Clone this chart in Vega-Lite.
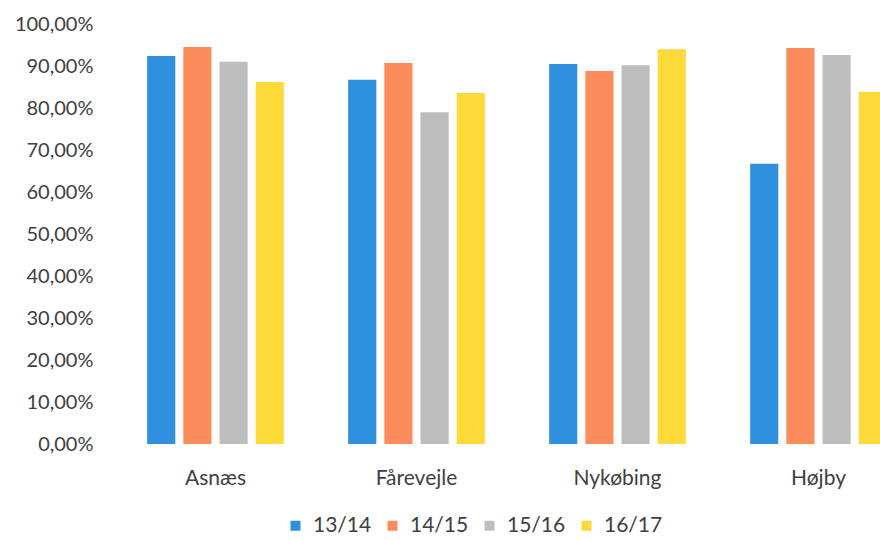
{
  "$schema": "https://vega.github.io/schema/vega-lite/v6.json",
  "autosize": {"type": "none"},
  "width": 765,
  "height": 420,
  "padding": {"left": 115, "right": 0, "top": 24, "bottom": 96},
  "background": "#ffffff",
  "data": {
    "values": [
      {"skole": "Asnæs", "år": "13/14", "andel": 0.924},
      {"skole": "Asnæs", "år": "14/15", "andel": 0.945},
      {"skole": "Asnæs", "år": "15/16", "andel": 0.910},
      {"skole": "Asnæs", "år": "16/17", "andel": 0.862},
      {"skole": "Fårevejle", "år": "13/14", "andel": 0.867},
      {"skole": "Fårevejle", "år": "14/15", "andel": 0.907},
      {"skole": "Fårevejle", "år": "15/16", "andel": 0.790},
      {"skole": "Fårevejle", "år": "16/17", "andel": 0.836},
      {"skole": "Nykøbing", "år": "13/14", "andel": 0.905},
      {"skole": "Nykøbing", "år": "14/15", "andel": 0.888},
      {"skole": "Nykøbing", "år": "15/16", "andel": 0.902},
      {"skole": "Nykøbing", "år": "16/17", "andel": 0.940},
      {"skole": "Højby", "år": "13/14", "andel": 0.667},
      {"skole": "Højby", "år": "14/15", "andel": 0.943},
      {"skole": "Højby", "år": "15/16", "andel": 0.926},
      {"skole": "Højby", "år": "16/17", "andel": 0.838}
    ]
  },
  "mark": {"type": "bar", "clip": true},
  "encoding": {
    "x": {
      "field": "skole",
      "type": "nominal",
      "sort": ["Asnæs", "Fårevejle", "Nykøbing", "Højby"],
      "scale": {"range": [0, 804], "paddingInner": 0.32, "paddingOuter": 0.16},
      "axis": {
        "title": null,
        "labelAngle": 0,
        "labelFont": "Lato",
        "labelFontSize": 21,
        "labelColor": "#404040",
        "labelPadding": 23,
        "domain": false,
        "ticks": false
      }
    },
    "xOffset": {
      "field": "år",
      "type": "nominal",
      "sort": ["13/14", "14/15", "15/16", "16/17"],
      "scale": {"paddingInner": 0.222, "paddingOuter": 0}
    },
    "y": {
      "field": "andel",
      "type": "quantitative",
      "scale": {"domain": [0, 1], "nice": false},
      "axis": {
        "title": null,
        "values": [0, 0.1, 0.2, 0.3, 0.4, 0.5, 0.6, 0.7, 0.8, 0.9, 1],
        "labelExpr": "replace(format(datum.value, '.2%'), '.', ',')",
        "labelFont": "Lato",
        "labelFontSize": 20,
        "labelColor": "#404040",
        "labelPadding": 22,
        "domain": false,
        "ticks": false,
        "grid": false
      }
    },
    "color": {
      "field": "år",
      "type": "nominal",
      "sort": ["13/14", "14/15", "15/16", "16/17"],
      "scale": {
        "domain": ["13/14", "14/15", "15/16", "16/17"],
        "range": ["#3090E0", "#FD8C5C", "#BDBDBD", "#FDD93A"]
      },
      "legend": {
        "title": null,
        "orient": "none",
        "direction": "horizontal",
        "legendX": 170,
        "legendY": 491,
        "symbolType": "square",
        "symbolSize": 100,
        "symbolStrokeWidth": 0,
        "labelFont": "Lato",
        "labelFontSize": 21,
        "labelColor": "#404040",
        "columnPadding": 10,
        "labelOffset": 7
      }
    }
  },
  "config": {"view": {"stroke": null}}
}
